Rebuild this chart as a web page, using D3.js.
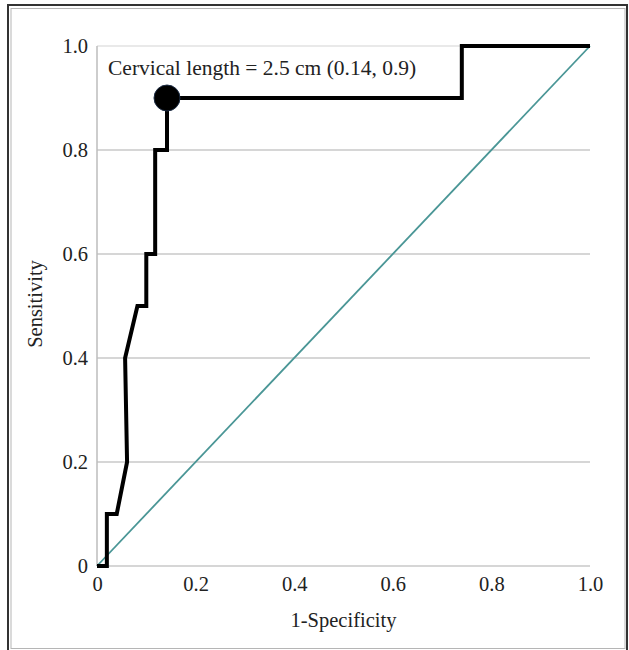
<!DOCTYPE html>
<html>
<head>
<meta charset="utf-8">
<script src="https://cdn.jsdelivr.net/npm/d3@7"></script>
<style>
  body { margin: 0; background: #fff; }
  text { font-family: "Times New Roman", "Liberation Serif", "DejaVu Serif", serif; fill: #222; }
</style>
</head>
<body>
<script>
// ROC curve - cervical length

// Data
var fpr = [0, 0.02, 0.02, 0.04, 0.061, 0.057, 0.082, 0.10, 0.10, 0.118, 0.118, 0.142, 0.142, 0.74, 0.74, 1.0];
var tpr = [0, 0, 0.1, 0.1, 0.2, 0.4, 0.5, 0.5, 0.6, 0.6, 0.8, 0.8, 0.9, 0.9, 1.0, 1.0];
var cutoff = { x: 0.142, y: 0.9, label: "Cervical length = 2.5 cm (0.14, 0.9)" };
var tickVals = [0, 0.2, 0.4, 0.6, 0.8, 1.0];
var tickLabels = ["0", "0.2", "0.4", "0.6", "0.8", "1.0"];

var W = 629, H = 650;
var serif = "'Times New Roman', 'Liberation Serif', 'DejaVu Serif', serif";

var svg = d3.select("body").append("svg")
    .attr("width", W)
    .attr("height", H);

// double frame
svg.append("rect")
    .attr("x", 8).attr("y", 5)
    .attr("width", 619).attr("height", 648)
    .attr("fill", "none")
    .attr("stroke", "#333")
    .attr("stroke-width", 2);
svg.append("rect")
    .attr("x", 11).attr("y", 8.5)
    .attr("width", 614).attr("height", 640)
    .attr("fill", "none")
    .attr("stroke", "#b5b5b5")
    .attr("stroke-width", 1);

// scales
var x = d3.scaleLinear().domain([0, 1]).range([97, 590]);
var y = d3.scaleLinear().domain([0, 1]).range([566, 46]);

// grid lines
svg.selectAll(".grid")
    .data(tickVals)
    .enter().append("line")
    .attr("x1", x(0))
    .attr("x2", x(1))
    .attr("y1", function(d) { return y(d); })
    .attr("y2", function(d) { return y(d); })
    .attr("stroke", function(d) { return d === 1 ? "#e2e2e2" : "#c8c8c8"; })
    .attr("stroke-width", 1.5);

// y axis line
svg.append("line")
    .attr("x1", x(0)).attr("x2", x(0))
    .attr("y1", y(0)).attr("y2", y(1))
    .attr("stroke", "#bdbdbd")
    .attr("stroke-width", 1.5);

// axes (labels only)
var xAxis = d3.axisBottom(x)
    .tickValues(tickVals)
    .tickSize(0)
    .tickPadding(10)
    .tickFormat(function(d, i) { return tickLabels[i]; });
var gx = svg.append("g")
    .attr("transform", "translate(0," + y(0) + ")")
    .call(xAxis);
gx.select(".domain").remove();

var yAxis = d3.axisLeft(y)
    .tickValues(tickVals)
    .tickSize(0)
    .tickPadding(9)
    .tickFormat(function(d, i) { return tickLabels[i]; });
var gy = svg.append("g")
    .attr("transform", "translate(" + x(0) + ",0)")
    .call(yAxis);
gy.select(".domain").remove();

svg.selectAll(".tick text")
    .style("font-family", serif)
    .style("font-size", "20.5px")
    .attr("fill", "#222");

// axis titles
svg.append("text")
    .attr("x", (x(0) + x(1)) / 2)
    .attr("y", 627)
    .attr("text-anchor", "middle")
    .style("font-family", serif)
    .style("font-size", "20.5px")
    .text("1-Specificity");

svg.append("text")
    .attr("transform", "translate(42," + (y(0.5) - 2) + ") rotate(-90)")
    .attr("text-anchor", "middle")
    .style("font-family", serif)
    .style("font-size", "20.5px")
    .text("Sensitivity");

// reference diagonal
svg.append("line")
    .attr("x1", x(0)).attr("y1", y(0))
    .attr("x2", x(1)).attr("y2", y(1))
    .attr("stroke", "#4a9696")
    .attr("stroke-width", 1.8);

// ROC curve
var pts = fpr.map(function(d, i) { return [d, tpr[i]]; });
var line = d3.line()
    .x(function(d) { return x(d[0]); })
    .y(function(d) { return y(d[1]); });

svg.append("path")
    .datum(pts)
    .attr("d", line)
    .attr("fill", "none")
    .attr("stroke", "#000")
    .attr("stroke-width", 4)
    .attr("stroke-linejoin", "miter");

// cutoff point
svg.append("circle")
    .attr("cx", x(cutoff.x))
    .attr("cy", y(cutoff.y))
    .attr("r", 13)
    .attr("fill", "#000")
    .attr("stroke", "#1c2c44")
    .attr("stroke-width", 1);

svg.append("text")
    .attr("x", 108)
    .attr("y", 75)
    .style("font-family", serif)
    .style("font-size", "21.5px")
    .text(cutoff.label);
</script>
</body>
</html>
